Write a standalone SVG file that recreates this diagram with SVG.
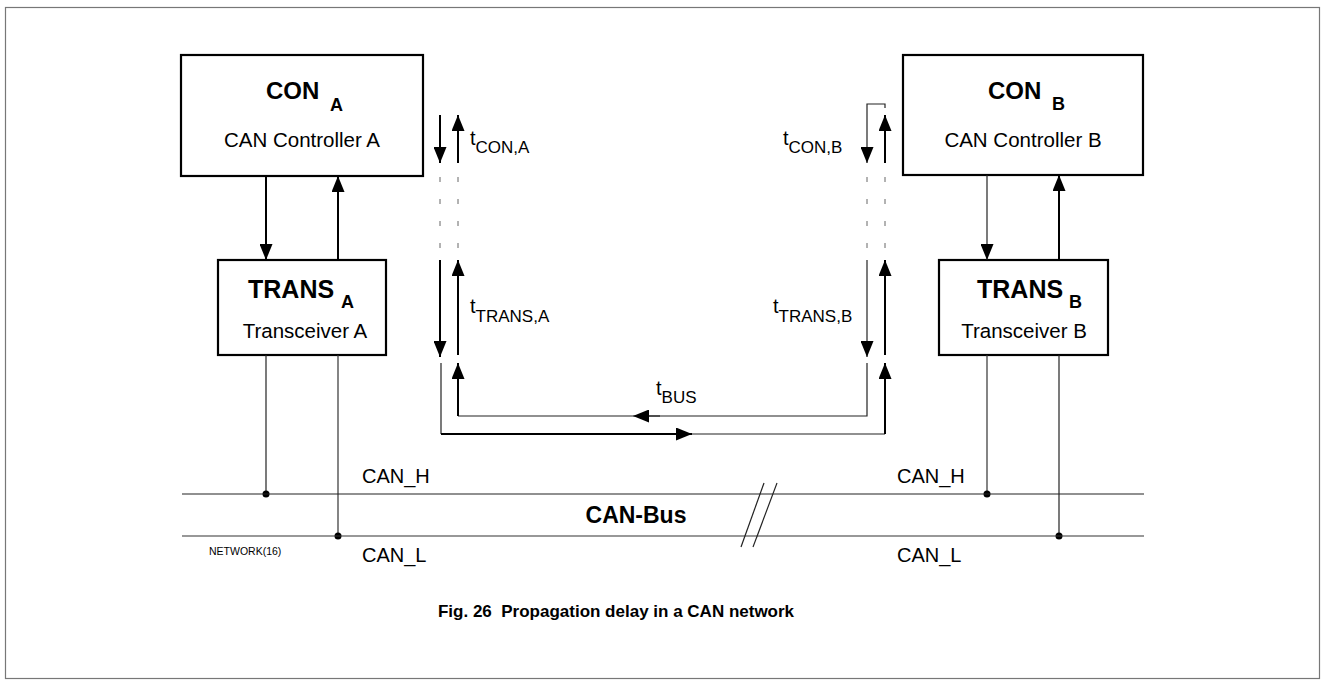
<svg xmlns="http://www.w3.org/2000/svg" width="1327" height="686" viewBox="0 0 1327 686">
<style>
.box{fill:#fff;stroke:#000;stroke-width:2.2}
.bold{font-family:"Liberation Sans",Arial,sans-serif;font-weight:bold;fill:#000}
.reg{font-family:"Liberation Sans",Arial,sans-serif;fill:#000}
.thick{stroke:#000;stroke-width:2;fill:none}
.thin{stroke:#222;stroke-width:1.2;fill:none}
.dash{stroke:#666;stroke-width:1;stroke-dasharray:5 17;fill:none}
.bus{stroke:#333;stroke-width:1.2;fill:none}
</style>
<defs>
<marker id="ah" viewBox="0 0 16 13" refX="16" refY="6.5" markerWidth="16" markerHeight="13" markerUnits="userSpaceOnUse" orient="auto">
<path d="M0,0 L16,6.5 L0,13 z" fill="#000"/>
</marker>
</defs>
<rect x="5.5" y="7.5" width="1314" height="671" fill="#fff" stroke="#777" stroke-width="1.2"/>

<g id="conA">
<rect class="box" x="181" y="55" width="242" height="121"/>
<text class="bold" x="266" y="99" font-size="24">CON</text>
<text class="bold" x="330" y="111" font-size="18">A</text>
<text class="reg" x="302" y="147" font-size="20.5" text-anchor="middle">CAN Controller A</text>
</g>
<g id="transA">
<rect class="box" x="218" y="260" width="168" height="95"/>
<text class="bold" x="248" y="298" font-size="25">TRANS</text>
<text class="bold" x="341" y="308" font-size="18">A</text>
<text class="reg" x="305" y="338" font-size="20.5" text-anchor="middle">Transceiver A</text>
</g>
<g id="conB">
<rect class="box" x="903" y="55" width="240" height="120"/>
<text class="bold" x="988" y="99" font-size="24">CON</text>
<text class="bold" x="1052" y="110" font-size="18">B</text>
<text class="reg" x="1023" y="147" font-size="20.5" text-anchor="middle">CAN Controller B</text>
</g>
<g id="transB">
<rect class="box" x="939" y="260" width="169" height="95"/>
<text class="bold" x="977" y="298" font-size="25">TRANS</text>
<text class="bold" x="1069" y="308" font-size="18">B</text>
<text class="reg" x="1024" y="338" font-size="20.5" text-anchor="middle">Transceiver B</text>
</g>

<g id="connectors">
<line class="thick" x1="266" y1="176" x2="266" y2="260" marker-end="url(#ah)"/>
<line class="thick" x1="338" y1="260" x2="338" y2="176" marker-end="url(#ah)"/>
<line class="thin" x1="987" y1="175" x2="987" y2="260" marker-end="url(#ah)"/>
<line class="thick" x1="1059" y1="260" x2="1059" y2="175" marker-end="url(#ah)"/>

<line class="thin" x1="266" y1="355" x2="266" y2="494"/>
<line class="bus" x1="338" y1="355" x2="338" y2="536"/>
<line class="bus" x1="987" y1="355" x2="987" y2="494"/>
<line class="thin" x1="1059" y1="355" x2="1059" y2="536"/>
<circle cx="266" cy="494" r="3.5" fill="#000"/>
<circle cx="338" cy="536" r="3.5" fill="#000"/>
<circle cx="987" cy="494" r="3.5" fill="#000"/>
<circle cx="1059" cy="536" r="3.5" fill="#000"/>

<line class="thin" x1="182" y1="494" x2="1144" y2="494"/>
<line class="bus" x1="182" y1="536" x2="1144" y2="536" stroke="#666" stroke-width="1.6"/>
<line class="thin" x1="764" y1="483" x2="741" y2="547"/>
<line class="thin" x1="777" y1="483" x2="753" y2="547"/>

<line class="thick" x1="440" y1="115" x2="440" y2="163" marker-end="url(#ah)"/>
<line class="thick" x1="458" y1="163" x2="458" y2="115" marker-end="url(#ah)"/>
<line class="dash" x1="440" y1="177" x2="440" y2="258"/>
<line class="dash" x1="458" y1="177" x2="458" y2="258"/>
<line class="thick" x1="440" y1="260" x2="440" y2="357" marker-end="url(#ah)"/>
<line class="thick" x1="458" y1="355" x2="458" y2="260" marker-end="url(#ah)"/>

<path class="thin" d="M867,108 V104 H885 V108" stroke="#555"/>
<line class="thin" x1="867" y1="108" x2="867" y2="163" marker-end="url(#ah)"/>
<line class="thick" x1="885" y1="163" x2="885" y2="115" marker-end="url(#ah)"/>
<line class="dash" x1="867" y1="177" x2="867" y2="258"/>
<line class="dash" x1="885" y1="177" x2="885" y2="258"/>
<line class="thin" x1="867" y1="260" x2="867" y2="357" marker-end="url(#ah)"/>
<line class="thick" x1="885" y1="355" x2="885" y2="260" marker-end="url(#ah)"/>

<path class="thin" d="M441,363 V434"/>
<line class="thick" x1="441" y1="434" x2="692" y2="434" marker-end="url(#ah)"/>
<line class="thin" x1="692" y1="434" x2="885" y2="434"/>
<line class="thick" x1="885" y1="434" x2="885" y2="363" marker-end="url(#ah)"/>

<path class="thin" d="M867,363 V416 H648"/>
<line class="thin" x1="660" y1="416" x2="633" y2="416" marker-end="url(#ah)"/>
<line class="thin" x1="633" y1="416" x2="458" y2="416"/>
<line class="thick" x1="458" y1="416" x2="458" y2="363" marker-end="url(#ah)"/>
</g>

<g id="labels">
<text class="reg" x="470" y="145" font-size="20">t<tspan font-size="17" dy="8">CON,A</tspan></text>
<text class="reg" x="470" y="313" font-size="20">t<tspan font-size="17" dy="9">TRANS,A</tspan></text>
<text class="reg" x="783" y="145" font-size="20">t<tspan font-size="17" dy="8">CON,B</tspan></text>
<text class="reg" x="773" y="313" font-size="20">t<tspan font-size="17" dy="9">TRANS,B</tspan></text>
<text class="reg" x="656" y="395" font-size="20">t<tspan font-size="17" dy="8">BUS</tspan></text>

<text class="reg" x="362" y="483" font-size="20">CAN_H</text>
<text class="reg" x="362" y="562" font-size="20">CAN_L</text>
<text class="reg" x="897" y="483" font-size="20">CAN_H</text>
<text class="reg" x="897" y="562" font-size="20">CAN_L</text>
<text class="reg" x="209" y="555" font-size="10.5">NETWORK(16)</text>
<text class="bold" x="636" y="523" font-size="23" text-anchor="middle">CAN-Bus</text>
<text class="bold" x="616" y="617" font-size="17" text-anchor="middle" xml:space="preserve">Fig. 26  Propagation delay in a CAN network</text>
</g>
</svg>
